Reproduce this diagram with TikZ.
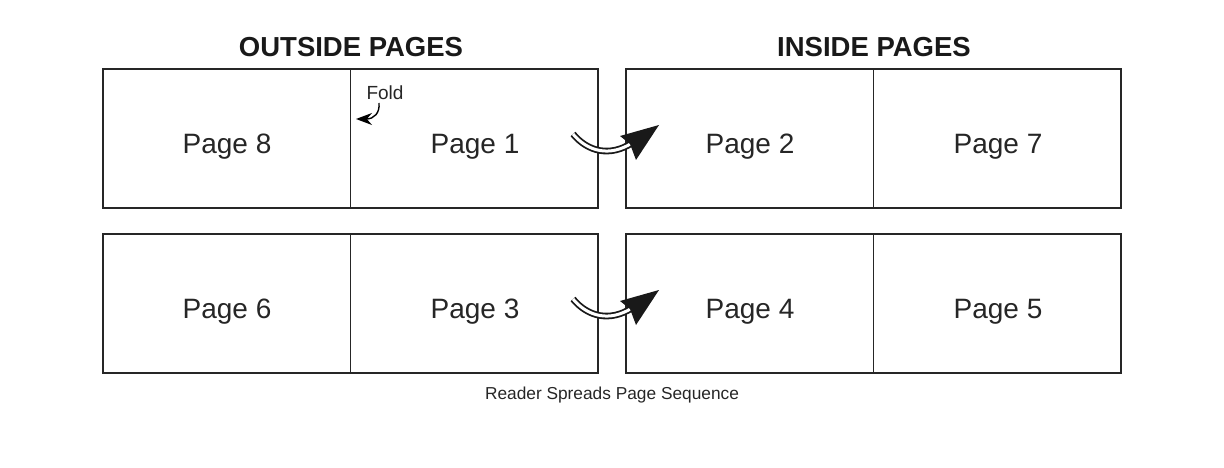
\documentclass[tikz,border=0pt]{standalone}
\usepackage{fontspec}
\setmainfont{Liberation Sans}
\usetikzlibrary{arrows.meta}
\begin{document}
\begin{tikzpicture}[x=1pt,y=-1pt,
  outerbox/.style={draw=black!85, line width=2pt},
  divider/.style={draw=black!85, line width=1pt},
  pagelbl/.style={font=\fontsize{28}{28}\selectfont, text=black!85},
  title/.style={font=\bfseries\fontsize{27.5}{28}\selectfont, text=black!90},
  turn/.style={line width=1.8pt, double=white, double distance=3pt, draw=black!90},
]
\useasboundingbox (0,0) rectangle (1224,468);
% titles
\node[title] (t1) at (351,47) {OUTSIDE PAGES};
\node[title] (t2) at (874,47) {INSIDE PAGES};
% boxes
\foreach \nm/\x/\y in {A/103/69,B/626/69,C/103/234,D/626/234}{
  \draw[outerbox] (\x,\y) rectangle ++(495,139);
  \draw[divider] (\x+247,\y) -- (\x+247,\y+139);
}
% page labels
\node[pagelbl] (p8) at (227,147) {Page 8};
\node[pagelbl] (p1) at (475,147) {Page 1};
\node[pagelbl] (p2) at (750,147) {Page 2};
\node[pagelbl] (p7) at (998,147) {Page 7};
\node[pagelbl] (p6) at (227,312) {Page 6};
\node[pagelbl] (p3) at (475,312) {Page 3};
\node[pagelbl] (p4) at (750,312) {Page 4};
\node[pagelbl] (p5) at (998,312) {Page 5};
% fold
\node[font=\fontsize{19}{19}\selectfont, text=black!85] (fold) at (385,93) {Fold};
\coordinate (fs) at (379,103);
\coordinate (fe) at (356,119);
\draw[line width=1.4pt, -{Stealth[length=16pt,width=12pt]}] (fs) .. controls (380,113) and (374,119) .. (fe);
% turn arrows
\foreach \dy/\nm in {0/a,165/b}{
  \coordinate (s\nm) at (573,{134+\dy});
  \coordinate (e\nm) at (632,{143+\dy});
  \draw[turn] (s\nm) .. controls (588,{152+\dy}) and (610,{157+\dy}) .. (e\nm);
  \fill[black!90] (659,{125+\dy}) -- (620,{136+\dy}) -- (630,{144+\dy}) -- (636,{160+\dy}) -- cycle;
}
% caption
\node[font=\fontsize{17.3}{18}\selectfont, text=black!85] (cap) at (612,395) {Reader Spreads Page Sequence};
\end{tikzpicture}
\end{document}
